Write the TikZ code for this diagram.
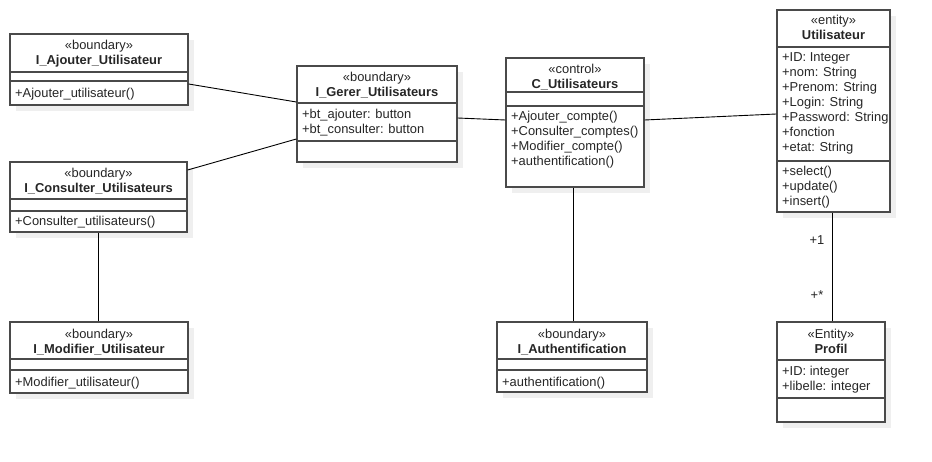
\documentclass[tikz,border=0pt]{standalone}
\usepackage{fontspec}
\setmainfont{Liberation Sans}
\usetikzlibrary{fit,shadows}
\definecolor{boxline}{HTML}{4A4A4A}
\definecolor{shade}{HTML}{EFEFEF}
\tikzset{
  cls/.style={draw=boxline, line width=1.25pt, fill=white, inner sep=0pt,
    drop shadow={shadow xshift=6pt, shadow yshift=-6pt, fill=shade, opacity=1}},
  divider/.style={draw=boxline, line width=1.25pt},
  txt/.style={inner sep=0pt, font=\fontsize{12.9}{15}\selectfont, text=black!85},
  stereo/.style={txt, anchor=base},
  cname/.style={txt, anchor=base, font=\fontsize{12.9}{15}\selectfont\bfseries},
  item/.style={txt, anchor=base west},
  assoc/.style={draw=black, line width=0.9pt},
  mult/.style={txt, anchor=center}
}
\begin{document}
\begin{tikzpicture}[x=1pt,y=-1pt]
\useasboundingbox[fill=white] (0,0) rectangle (932,462);

% ---------- I_Ajouter_Utilisateur
\node[cls, fit={(10,34)(188,105)}] (b1) {};
\draw[divider] (10,72) -- (188,72) (10,81) -- (188,81);
\node[stereo] at (99,50) {«boundary»};
\node[cname] at (99,65) {I\_Ajouter\_Utilisateur};
\node[item] at (15,98) {+Ajouter\_utilisateur()};

% ---------- I_Consulter_Utilisateurs
\node[cls, fit={(10,162)(187,232)}] (b2) {};
\draw[divider] (10,199) -- (187,199) (10,211) -- (187,211);
\node[stereo] at (98.5,178) {«boundary»};
\node[cname] at (98.5,193) {I\_Consulter\_Utilisateurs};
\node[item] at (15,226) {+Consulter\_utilisateurs()};

% ---------- I_Modifier_Utilisateur
\node[cls, fit={(10,322)(188,393)}] (b3) {};
\draw[divider] (10,359) -- (188,359) (10,370) -- (188,370);
\node[stereo] at (99,338) {«boundary»};
\node[cname] at (99,353) {I\_Modifier\_Utilisateur};
\node[item] at (15,386) {+Modifier\_utilisateur()};

% ---------- I_Gerer_Utilisateurs
\node[cls, fit={(297,66)(457,162)}] (b4) {};
\draw[divider] (297,103) -- (457,103) (297,141) -- (457,141);
\node[stereo] at (377,82) {«boundary»};
\node[cname] at (377,97) {I\_Gerer\_Utilisateurs};
\node[item] at (302,119) {+bt\_ajouter: button};
\node[item] at (302,134) {+bt\_consulter: button};

% ---------- C_Utilisateurs
\node[cls, fit={(506,58)(644,187)}] (b5) {};
\draw[divider] (506,92) -- (644,92) (506,106) -- (644,106);
\node[stereo] at (575,74) {«control»};
\node[cname] at (575,89) {C\_Utilisateurs};
\node[item] at (511,121) {+Ajouter\_compte()};
\node[item] at (511,136) {+Consulter\_comptes()};
\node[item] at (511,151) {+Modifier\_compte()};
\node[item] at (511,166) {+authentification()};

% ---------- Utilisateur
\node[cls, fit={(777,10)(890,212)}] (b6) {};
\draw[divider] (777,47) -- (890,47) (777,161) -- (890,161);
\node[stereo] at (833.5,25) {«entity»};
\node[cname] at (833.5,40) {Utilisateur};
\node[item] at (782,62) {+ID: Integer};
\node[item] at (782,77) {+nom: String};
\node[item] at (782,92) {+Prenom: String};
\node[item] at (782,107) {+Login: String};
\node[item] at (782,122) {+Password: String};
\node[item] at (782,137) {+fonction};
\node[item] at (782,152) {+etat: String};
\node[item] at (782,176) {+select()};
\node[item] at (782,191) {+update()};
\node[item] at (782,206) {+insert()};

% ---------- I_Authentification
\node[cls, fit={(497,322)(647,392)}] (b7) {};
\draw[divider] (497,359) -- (647,359) (497,370) -- (647,370);
\node[stereo] at (572,338) {«boundary»};
\node[cname] at (572,353) {I\_Authentification};
\node[item] at (502,386) {+authentification()};

% ---------- Profil
\node[cls, fit={(777,322)(885,422)}] (b8) {};
\draw[divider] (777,360) -- (885,360) (777,398) -- (885,398);
\node[stereo] at (831,338) {«Entity»};
\node[cname] at (831,353) {Profil};
\node[item] at (782,375) {+ID: integer};
\node[item] at (782,390) {+libelle: integer};

% ---------- associations
\draw[assoc] (b1.east |- 0,84) -- (b4.west |- 0,102);
\draw[assoc] (b2.east |- 0,170) -- (b4.west |- 0,139);
\draw[assoc] (b2.south -| 98,0) -- (b3.north -| 98,0);
\draw[assoc] (b4.east |- 0,118) -- (b5.west |- 0,120);
\draw[assoc] (b5.east |- 0,120) -- (b6.west |- 0,114);
\draw[assoc] (b5.south -| 573,0) -- (b7.north -| 573,0);
\draw[assoc] (b6.south -| 832,0) -- (b8.north -| 832,0);
\node[mult] (m1) at (817,240) {+1};
\node[mult] (m2) at (817,295) {+*};
\end{tikzpicture}
\end{document}
